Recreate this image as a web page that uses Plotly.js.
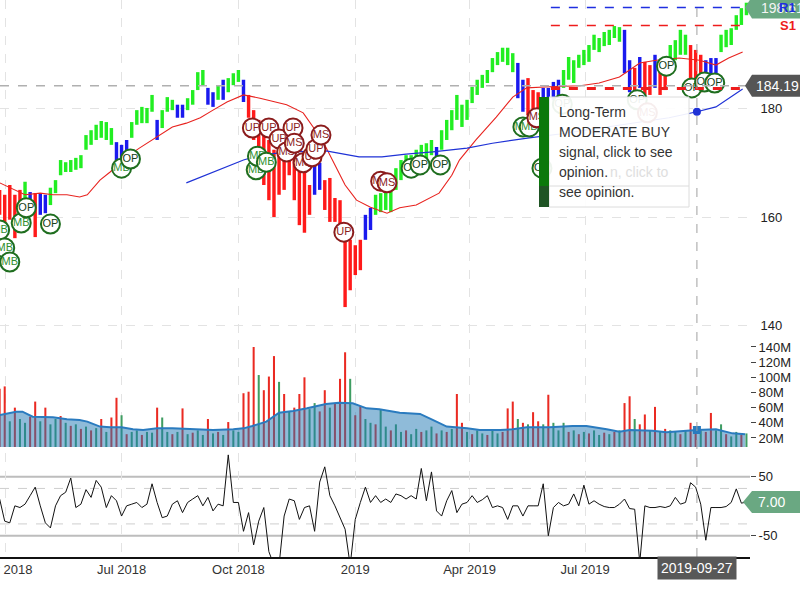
<!DOCTYPE html>
<html><head><meta charset="utf-8">
<script src="https://cdn.plot.ly/plotly-3.0.1.min.js"></script>
<style>html,body{margin:0;padding:0;background:#fff}#chart{width:800px;height:600px}</style>
</head><body><div id="chart"></div>
<script>
// ---------------- DATA ----------------
const barDates = [
'2018-03-27','2018-03-31','2018-04-04','2018-04-08','2018-04-12','2018-04-16','2018-04-20','2018-04-24','2018-04-28','2018-05-02',
'2018-05-06','2018-05-10','2018-05-14','2018-05-18','2018-05-22','2018-05-26','2018-05-30','2018-06-03','2018-06-07','2018-06-11',
'2018-06-15','2018-06-19','2018-06-23','2018-06-27','2018-07-01','2018-07-05','2018-07-09','2018-07-13','2018-07-17','2018-07-21',
'2018-07-25','2018-07-29','2018-08-02','2018-08-06','2018-08-10','2018-08-14','2018-08-18','2018-08-22','2018-08-26','2018-08-30',
'2018-09-03','2018-09-07','2018-09-11','2018-09-15','2018-09-19','2018-09-23','2018-09-27','2018-10-01','2018-10-05','2018-10-09',
'2018-10-13','2018-10-17','2018-10-21','2018-10-25','2018-10-29','2018-11-02','2018-11-06','2018-11-10','2018-11-14','2018-11-18',
'2018-11-22','2018-11-26','2018-11-30','2018-12-04','2018-12-08','2018-12-12','2018-12-16','2018-12-20','2018-12-24','2018-12-28',
'2019-01-01','2019-01-05','2019-01-09','2019-01-13','2019-01-17','2019-01-21','2019-01-25','2019-01-29','2019-02-02','2019-02-06',
'2019-02-10','2019-02-14','2019-02-18','2019-02-22','2019-02-26','2019-03-02','2019-03-06','2019-03-10','2019-03-14','2019-03-18',
'2019-03-22','2019-03-26','2019-03-30','2019-04-03','2019-04-07','2019-04-11','2019-04-15','2019-04-19','2019-04-23','2019-04-27',
'2019-05-01','2019-05-05','2019-05-09','2019-05-13','2019-05-17','2019-05-21','2019-05-25','2019-05-29','2019-06-02','2019-06-06',
'2019-06-10','2019-06-14','2019-06-18','2019-06-22','2019-06-26','2019-06-30','2019-07-04','2019-07-08','2019-07-12','2019-07-16',
'2019-07-20','2019-07-24','2019-07-28','2019-08-01','2019-08-05','2019-08-09','2019-08-13','2019-08-17','2019-08-21','2019-08-25',
'2019-08-29','2019-09-02','2019-09-06','2019-09-10','2019-09-14','2019-09-18','2019-09-22','2019-09-26','2019-09-30','2019-10-04',
'2019-10-08','2019-10-12','2019-10-16','2019-10-20','2019-10-24','2019-10-28','2019-11-01','2019-11-05'];

const barHigh = [
165.0,164.1,165.9,164.1,165.0,166.5,164.6,164.4,164.4,164.1,
165.4,166.8,170.5,170.1,170.5,170.9,171.4,175.1,176.0,177.0,
177.7,177.5,176.4,173.8,173.3,174.2,177.5,179.7,180.3,180.1,
182.5,177.9,179.7,182.1,181.6,180.7,180.7,181.9,183.4,186.7,
187.1,183.8,183.0,184.3,185.3,185.6,186.5,187.1,185.3,182.5,
179.7,177.9,176.0,174.2,172.4,173.3,174.2,175.1,172.4,170.5,
168.7,165.9,169.6,170.0,166.8,167.2,163.5,163.1,155.8,155.8,
154.8,155.8,160.4,161.7,164.1,164.4,165.0,165.9,169.0,170.5,
171.4,171.4,172.4,173.3,173.6,174.2,172.9,176.0,177.9,179.7,
182.5,180.7,181.6,184.0,185.3,186.2,187.1,189.3,190.4,191.2,
191.2,190.2,188.4,185.3,185.6,183.4,183.0,183.8,183.8,184.9,
185.3,187.1,189.5,188.9,189.9,190.8,191.7,193.6,193.0,194.1,
194.5,195.2,195.0,194.5,188.9,187.5,189.5,188.6,188.0,189.9,
187.1,187.5,191.7,192.6,194.5,193.6,191.7,190.8,189.9,188.9,
189.3,189.3,193.6,194.5,194.8,197.2,198.5,199.5];

const barLow = [
160.4,157.2,159.5,156.1,160.4,163.5,160.9,156.3,160.4,160.7,
162.2,164.4,167.7,168.3,168.3,168.7,169.0,172.4,173.3,174.2,
174.6,174.2,173.3,170.5,170.1,170.9,174.6,177.0,177.3,177.3,
179.4,174.2,176.4,179.4,179.7,178.3,178.3,179.7,180.7,183.4,
184.3,180.7,180.3,181.6,181.6,183.0,184.3,184.9,181.2,178.3,
174.2,172.4,165.9,163.1,160.0,164.1,165.0,167.7,163.1,158.5,
157.1,160.4,164.1,165.0,161.3,159.1,159.1,155.8,143.4,146.5,
149.3,150.2,155.8,157.6,160.4,160.9,161.3,160.9,165.0,166.8,
168.3,168.7,169.0,170.0,170.5,171.4,170.0,172.4,174.2,176.0,
177.9,176.6,177.9,181.0,182.5,183.8,184.7,186.7,188.0,188.6,
188.0,186.7,181.9,179.4,178.8,177.9,178.3,180.7,179.7,181.6,
182.1,183.8,185.3,184.7,187.5,188.0,188.6,190.8,190.4,191.5,
191.7,193.0,192.3,186.5,183.0,182.5,183.8,182.5,182.5,183.8,
182.5,183.4,186.7,188.9,189.9,189.9,185.3,182.5,183.0,184.3,
185.3,186.2,190.4,191.3,191.7,194.5,195.4,197.2];

// g = bullish (green), r = bearish (red), b = neutral (blue)
const barSignal = ('rrrrrgbrbb'+'gggggggggg'+'gggbbbgggg'+'gbgggbbggg'+'gbbgbgggbr'+
  'rrrrrrrrrr'+'rrbbrrrrrr'+'rrbbgggggg'+'ggggggbggg'+'gggggggggg'+
  'ggbbrrrbbb'+'bggggggggg'+'gggbbrbrrb'+'rrggggrrrb'+'bbgggggg').split('');

// volume in millions, and day direction (r = down, g = up)
const volume = [
85,88,42,60,45,40,48,68,42,60,
38,45,49,40,36,38,32,35,30,33,
45,28,47,73,50,25,28,30,24,28,
27,60,47,28,25,28,59,25,27,30,
24,45,26,28,24,41,30,28,79,81,
140,103,83,101,128,94,78,55,60,78,
100,58,66,55,83,60,65,98,133,98,
50,62,45,40,38,57,35,30,38,28,
30,25,32,28,30,35,26,30,28,32,
78,40,28,25,30,26,24,30,26,28,
59,68,45,40,38,54,42,38,77,40,
30,40,28,30,25,28,26,30,24,27,
25,28,30,66,75,45,38,51,30,61,
28,32,30,28,25,30,40,35,30,28,
53,30,38,25,22,28,24,26];
const volDir = ('rrgrggrrgr'+'ggrgrgrgrg'+'rgrrgrggrg'+'grggrgrgrg'+'grgrgrggrr'+
  'rgrrrgrgrr'+'rggrrgrrrg'+'rrggrggrgg'+'rggrggrgrg'+'rrgrggrggr'+
  'rrgrgrrgrg'+'ggrgrgrggr'+'grgrrgrrgr'+'grggrgrrgr'+'rggrggrg').split('');

// oscillator panel
const osc = [
12.1,-25.3,-28.2,0.6,-2.3,3.4,17.8,32.2,0.6,-28.2,
-36.8,0.6,17.8,23.6,47.7,-2.3,3.4,28,14.9,43.6,
32.2,-2.3,17.8,9.2,-16.7,0.6,3.4,6.3,-2.3,3.4,
37.9,6.3,-19.5,-16.7,3.4,9.2,-10.9,6.3,12.1,17.8,
0.6,14.9,-8.0,3.4,0.6,86.8,6.3,6.3,-42.5,-10.9,
-65.5,-25.3,-2.3,-77,-100,-100,-16.7,12.1,9.2,-22.4,
-2.3,0.6,-42.5,40.8,66.6,17.8,0.6,-19.5,-39.0,-100,
-22.4,6.3,32.2,6.3,17.8,6.3,12.1,6.3,20.7,17.8,
12.1,17.8,12.1,63.8,9.2,58,-8,-16.7,9.2,26.4,
-10.9,3.4,6.3,17.8,6.3,10.9,17.8,-2.3,0.6,-2.3,
-22.4,0.6,0.6,-16.7,0.6,0.6,0.6,37.9,-50,-2.3,
6.3,0.6,3.4,20.7,0.6,35.6,3.4,9.2,3.4,-0.6,
-2.3,-2.3,3.4,12.1,-4,-5.2,-95,0.6,-2.3,-2.3,
-0.6,-2.3,0.6,14.9,3.4,6.3,39.7,32.2,3.4,-57.6,
-2.3,-2.3,-2.3,-0.6,6.3,29.3,5.1,7.0];

const ma50Dates = ['2018-03-27','2018-04-16','2018-04-28','2018-05-08','2018-05-19','2018-05-29','2018-06-04','2018-06-14','2018-06-22','2018-07-04',
'2018-07-15','2018-07-29','2018-08-10','2018-08-21','2018-09-01','2018-09-11','2018-09-22','2018-10-05','2018-10-18','2018-11-08',
'2018-11-21','2018-12-06','2018-12-14','2018-12-24','2019-01-02','2019-01-13','2019-01-26','2019-02-05','2019-02-18','2019-03-08',
'2019-03-18','2019-03-24','2019-04-06','2019-04-22','2019-05-05','2019-05-16','2019-06-03','2019-06-27','2019-07-12','2019-07-28',
'2019-08-13','2019-08-26','2019-09-13','2019-09-29','2019-10-12','2019-10-22','2019-11-02'];
const ma50 = [166.3,164.1,164.4,164.1,164.1,163.7,164.1,166.8,168.3,170.9,
172.7,174.8,176.6,177.3,178.3,179.7,181.2,182.5,181.9,180.7,
179.2,174.2,170.5,165.9,163.1,161.8,160.7,161.7,162.2,164.4,
167.7,170.5,174.2,178.4,182.1,183.8,184.0,184.2,184.7,185.8,
188.4,188.9,189.3,188.9,188.0,189.3,190.4];

const ma200Dates = ['2018-08-21','2018-09-14','2018-10-05','2018-10-18','2018-11-10','2018-12-09','2019-01-04','2019-01-22','2019-02-10','2019-03-03',
'2019-03-30','2019-04-19','2019-05-05','2019-05-18','2019-06-11','2019-07-12','2019-08-13','2019-09-05','2019-09-27','2019-10-12','2019-11-02'];
const ma200 = [166.3,168.5,170.5,171.4,172.0,172.2,171.1,171.1,171.6,172.0,
172.7,173.6,174.2,174.6,175.3,176.4,177.5,178.3,179.4,180.3,183.6];

const avgVolDates = ['2018-03-27','2018-04-09','2018-04-14','2018-04-22','2018-05-08','2018-05-19','2018-05-29','2018-06-04','2018-06-14','2018-06-22',
'2018-07-01','2018-07-10','2018-07-18','2018-07-29','2018-08-10','2018-08-26','2018-09-11','2018-09-27','2018-10-05','2018-10-12',
'2018-10-23','2018-11-02','2018-11-13','2018-11-24','2018-12-09','2018-12-19','2018-12-30','2019-01-10','2019-01-20','2019-02-05',
'2019-02-21','2019-03-03','2019-03-14','2019-03-30','2019-04-09','2019-04-25','2019-05-05','2019-05-16','2019-06-03','2019-06-21',
'2019-07-02','2019-07-18','2019-07-28','2019-08-05','2019-08-23','2019-09-03','2019-09-19','2019-09-27','2019-10-12','2019-10-25','2019-11-04'];
const avgVol = [50.3,54.7,54.7,48.0,47.2,44.6,43.8,41.6,35.0,34.1,
34.1,31.4,30.5,32.7,32.7,31.4,30.5,31.4,32.7,35.8,
41.6,53.4,55.6,59.1,64.8,66.6,65.7,59.1,57.8,53.4,
51.7,43.8,35.0,32.7,30.5,30.5,31.4,34.1,34.1,35.8,
35.8,31.4,28.3,30.5,29.6,27.4,29.6,30.5,31.4,26.1,24.8];

const sigDates = ['2018-03-27','2018-03-31','2018-04-04','2018-04-13','2018-04-17','2018-05-06','2018-07-01','2018-07-08',
'2018-10-12','2018-10-15','2018-10-16','2018-10-23','2018-10-25','2018-11-02','2018-11-08','2018-11-13','2018-11-14','2018-11-21',
'2018-11-28','2018-12-01','2018-12-05','2018-12-23','2019-01-21','2019-01-26','2019-02-14','2019-02-21','2019-03-09',
'2019-05-13','2019-05-18','2019-05-24','2019-05-28','2019-06-13','2019-08-11','2019-08-19','2019-09-03','2019-09-23','2019-10-03','2019-10-11'];
const sigPrices = [157.6,154.3,151.7,158.9,161.7,158.7,169.0,170.7,
176.4,168.7,171.2,170.1,176.4,174.4,172.0,176.4,173.6,170.0,
171.1,172.5,175.1,157.2,166.6,166.3,169.0,169.6,169.6,
176.6,176.6,178.3,169.0,180.8,181.6,179.2,187.8,183.8,184.9,184.7];
const sigLabels = ['MB','MB','MB','MB','OP','OP','MB','OP',
'UP','MB','MB','MB','UP','UP','MS','UP','MS','MS',
'UP','UP','MS','UP','MS','MS','OP','OP','OP',
'MB','MB','MS','OP','OP','OP','MS','OP','OP','OP','OP'];

const tickVals = ['2018-04-01','2018-07-01','2018-10-01','2019-01-01','2019-04-01','2019-07-01'];
const tickText = ['Apr 2018','Jul 2018','Oct 2018','2019','Apr 2019','Jul 2019'];
const priceTicks = [140,160,180,200];
const volTicks = [20,40,60,80,100,120,140];
const oscTicks = [-50,50];

const levelNames = ['R1','S1'];
const levelValues = [198.61,195.3];
const levelStart = '2019-06-04', levelEnd = '2019-11-04';
const supportLevel = 183.7;
const crossDate = '2019-09-27';
const crossPrice = 184.19;
const oscLast = 7.00;
const tipLines = ['Long-Term','MODERATE BUY','signal, click to see','opinion.','see opinion.'];

// ---------------- DRAWING ----------------
const FONT = 'Liberation Sans, Arial, sans-serif';
const DAY = 86400000;
const W = 750, H = 557;
const px = p => p / W, py = p => (H - p) / H;
const sigCol = {g:'#22ee22', r:'#ff1a1a', b:'#1a1aee'};
const dirCol = {r:'#ea2a22', g:'#3f9d62'};

const traces = [];
traces.push({type:'bar', x:barDates, base:barLow, y:barHigh.map((h,i)=>+(h-barLow[i]).toFixed(2)),
  width:2.7*DAY, marker:{color:barSignal.map(c=>sigCol[c]), line:{width:0}}, xaxis:'x', yaxis:'y', hoverinfo:'skip'});
traces.push({type:'scatter', mode:'lines', x:ma50Dates, y:ma50, line:{color:'#e8231f', width:1.1}, yaxis:'y', hoverinfo:'skip'});
traces.push({type:'scatter', mode:'lines', x:ma200Dates, y:ma200, line:{color:'#1f32d6', width:1.2}, yaxis:'y', hoverinfo:'skip'});
const ci = ma200Dates.indexOf(crossDate);
traces.push({type:'scatter', mode:'markers', x:[ma200Dates[ci]], y:[ma200[ci]], marker:{color:'#1f32d6', size:8}, yaxis:'y', hoverinfo:'skip'});

sigDates.forEach((d,i)=>{
  const lab = sigLabels[i];
  const green = (lab==='MB'||lab==='OP');
  traces.push({type:'scatter', mode:'markers+text', x:[d], y:[sigPrices[i]], text:[lab], textposition:'middle center',
    marker:{size:19, color:'#ffffff', line:{color: green?'#1f6e1f':'#8b1c1c', width:2}},
    textfont:{family:FONT, size:11, color: lab==='MB'?'#2f8f2f':(lab==='OP'?'#173f17':'#8b1c1c')},
    yaxis:'y', hoverinfo:'skip'});
});

traces.push({type:'bar', x:barDates, y:volume.map(v=>v*1e6), width:1.6*DAY,
  marker:{color:volDir.map(c=>dirCol[c]), line:{width:0}}, yaxis:'y2', hoverinfo:'skip'});
traces.push({type:'scatter', mode:'lines', x:avgVolDates, y:avgVol.map(v=>v*1e6), fill:'tozeroy',
  fillcolor:'rgba(31,119,180,0.5)', line:{color:'#2a7bbf', width:2}, yaxis:'y2', hoverinfo:'skip'});
const vi = avgVolDates.indexOf(crossDate);
traces.push({type:'scatter', mode:'markers', x:[avgVolDates[vi]], y:[avgVol[vi]*1e6], marker:{color:'#2a7bbf', size:8, symbol:'square'}, yaxis:'y2', hoverinfo:'skip'});

traces.push({type:'scatter', mode:'lines', x:barDates, y:osc, line:{color:'#111', width:1}, yaxis:'y3', hoverinfo:'skip'});

const shapes = [];
// oscillator band lines
[50,-50].forEach(v=>shapes.push({type:'line', xref:'paper', x0:0, x1:1, yref:'y3', y0:v, y1:v, line:{color:'#bdbdbd', width:2}, layer:'below'}));
[30,-30].forEach(v=>shapes.push({type:'line', xref:'paper', x0:0, x1:1, yref:'y3', y0:v, y1:v, line:{color:'#cfcfcf', width:1, dash:'dash'}, layer:'below'}));
// levels
shapes.push({type:'line', xref:'x', x0:levelStart, x1:levelEnd, yref:'y', y0:levelValues[0], y1:levelValues[0], line:{color:'#1f2fe0', width:1.5, dash:'dash'}});
shapes.push({type:'line', xref:'x', x0:levelStart, x1:levelEnd, yref:'y', y0:levelValues[1], y1:levelValues[1], line:{color:'#ee1c1c', width:1.5, dash:'dash'}});
shapes.push({type:'line', xref:'x', x0:levelStart, x1:levelEnd, yref:'y', y0:supportLevel, y1:supportLevel, line:{color:'#ee1c1c', width:3, dash:'dash'}});
// crosshair
shapes.push({type:'line', xref:'paper', x0:0, x1:1, yref:'y', y0:crossPrice, y1:crossPrice, line:{color:'#b0b0b0', width:1.5, dash:'dash'}});
shapes.push({type:'line', xref:'x', x0:crossDate, x1:crossDate, yref:'paper', y0:0, y1:1, line:{color:'#a0a0a0', width:1, dash:'dash'}});
// right-hand value tags
const tag = (yref, v, color, tip) => ({type:'path', xref:'paper', xanchor:1, xsizemode:'pixel', yref:yref, yanchor:v, ysizemode:'pixel',
  path:`M ${tip},0 L 2,11 L 50,11 L 50,-11 L 2,-11 Z`, fillcolor:color, line:{width:0}, layer:'above'});
shapes.push(tag('y', levelValues[0], '#6aa882', -5));
shapes.push(tag('y', crossPrice, '#555555', -5));
shapes.push(tag('y3', oscLast, '#6aa882', -7));
// tooltip
shapes.push({type:'rect', xref:'paper', yref:'paper', x0:px(549), x1:px(689), y0:py(207), y1:py(97), fillcolor:'rgba(255,255,255,0.92)', line:{color:'#dcdcdc', width:1}, layer:'above'});
shapes.push({type:'line', xref:'paper', yref:'paper', x0:px(549), x1:px(689), y0:py(186), y1:py(186), line:{color:'#dcdcdc', width:1}, layer:'above'});
shapes.push({type:'rect', xref:'paper', yref:'paper', x0:px(539), x1:px(549), y0:py(186), y1:py(97), fillcolor:'#0b780b', line:{width:0}, layer:'above'});
shapes.push({type:'rect', xref:'paper', yref:'paper', x0:px(539), x1:px(549), y0:py(207), y1:py(186), fillcolor:'#1f5424', line:{width:0}, layer:'above'});

const ann = [];
ann.push({xref:'paper', x:1, xshift:27, xanchor:'center', yref:'y', y:crossPrice, text:crossPrice.toFixed(2), showarrow:false, font:{family:FONT, size:14, color:'#fff'}});
ann.push({xref:'paper', x:1, xshift:9, xanchor:'left', yref:'y', y:levelValues[0], text:levelValues[0].toFixed(2), showarrow:false, font:{family:FONT, size:14, color:'#f4f4f4'}});
ann.push({xref:'paper', x:1, xshift:48, xanchor:'right', yref:'y', y:levelValues[0], text:'<b>'+levelNames[0]+'</b>', showarrow:false, font:{family:FONT, size:13, color:'#1f2fe0'}});
ann.push({xref:'paper', x:1, xshift:48, xanchor:'right', yref:'y', y:levelValues[1], text:'<b>'+levelNames[1]+'</b>', showarrow:false, font:{family:FONT, size:13, color:'#ee1c1c'}});
ann.push({xref:'paper', x:1, xshift:21, xanchor:'center', yref:'y3', y:oscLast, text:oscLast.toFixed(2), showarrow:false, font:{family:FONT, size:14, color:'#fff'}});
ann.push({xref:'x', x:crossDate, xanchor:'center', yref:'paper', y:py(568), yanchor:'middle', text:crossDate, showarrow:false, bgcolor:'#585858', borderpad:3, font:{family:FONT, size:14, color:'#fff'}});
// tooltip text
ann.push({xref:'paper', yref:'paper', x:px(608), y:py(172), xanchor:'left', yanchor:'middle', text:'n, click to', showarrow:false, font:{family:FONT, size:14, color:'#dedede'}});
[112,132,152,172,192].forEach((yy,k)=>ann.push({xref:'paper', yref:'paper', x:px(557), y:py(yy), xanchor:'left', yanchor:'middle', text:tipLines[k], showarrow:false, font:{family:FONT, size:14, color:'#333'}}));

const layout = {
  width:800, height:600, margin:{l:0, r:50, t:0, b:43},
  paper_bgcolor:'#fff', plot_bgcolor:'#fff', showlegend:false, hovermode:false, barmode:'overlay',
  font:{family:FONT, size:13, color:'#333'},
  xaxis:{type:'date', range:['2018-03-27 07:00','2019-11-07 19:00'], anchor:'y3', tickvals:tickVals, ticktext:tickText,
    showgrid:true, gridcolor:'#e3e3e3', griddash:'dash', gridwidth:1, showline:true, linecolor:'#111', linewidth:1.5,
    ticks:'', tickfont:{family:FONT, size:13, color:'#333'}, ticklabeloverflow:'allow', zeroline:false},
  yaxis:{domain:[217/557, 1], range:[137.33, 200], side:'right', tickvals:priceTicks, ticktext:priceTicks.map(v=>v===200?'':String(v)),
    showgrid:true, gridcolor:'#e3e3e3', griddash:'dash', zeroline:false, showline:false, ticks:'outside', ticklen:7, tickcolor:'rgba(0,0,0,0)',
    tickfont:{family:FONT, size:13, color:'#222'}},
  yaxis2:{domain:[110/557, 217/557], range:[8.1e6, 149.2e6], side:'right', tickvals:volTicks.map(v=>v*1e6), ticktext:volTicks.map(v=>v+'M'),
    showgrid:false, zeroline:false, showline:false, ticks:'outside', ticklen:5, tickcolor:'#444', tickfont:{family:FONT, size:13, color:'#222'}},
  yaxis3:{domain:[0, 104/557], range:[-86, 90], side:'right', tickvals:oscTicks, ticktext:oscTicks.map(String),
    showgrid:false, zeroline:false, showline:false, ticks:'outside', ticklen:5, tickcolor:'#444', tickfont:{family:FONT, size:13, color:'#222'}},
  shapes:shapes, annotations:ann
};
Plotly.newPlot('chart', traces, layout, {displayModeBar:false, staticPlot:true});
</script>
</body></html>
